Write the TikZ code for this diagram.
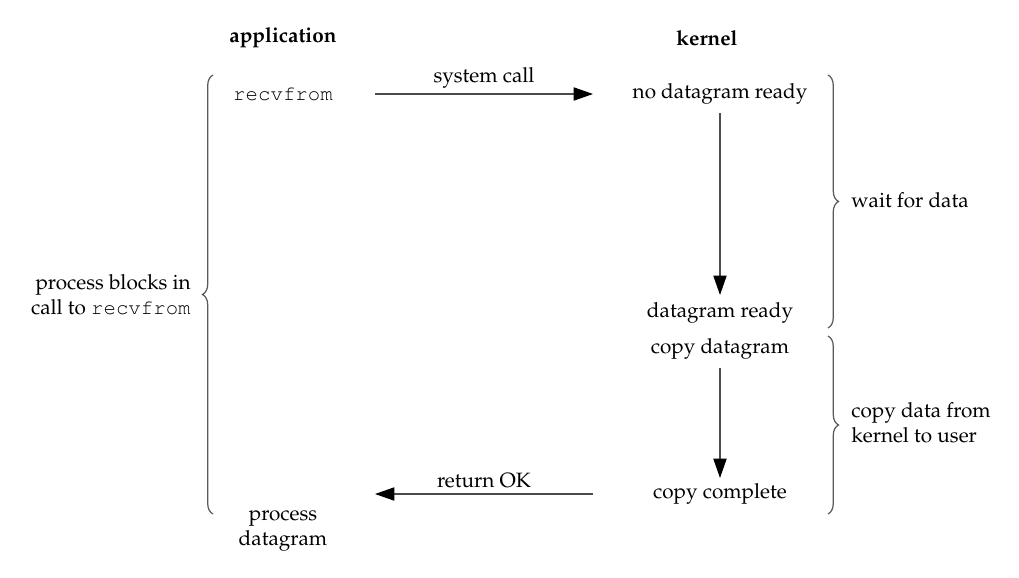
\documentclass[tikz,border=0pt]{standalone}
\usepackage[T1]{fontenc}
\usepackage{mathpazo}
\usepackage{courier}
\usetikzlibrary{arrows.meta,decorations.pathreplacing}
\begin{document}
\begin{tikzpicture}[x=0.02cm,y=-0.02cm,
  lbl/.style={inner sep=0pt,font=\fontsize{11.8}{14}\selectfont},
  hdr/.style={inner sep=0pt,font=\fontsize{11.8}{14}\selectfont\bfseries},
  conn/.style={draw=black!70,line width=0.7pt,-{Stealth[length=11pt,width=7.5pt,inset=0pt,black]}},
  brc/.style={draw=black!65,line width=0.7pt,decorate,decoration={brace,amplitude=6pt}}]
\useasboundingbox (0,0) rectangle (1019,578);
\node[hdr] (app) at (283,38) {application};
\node[hdr] (ker) at (707,38) {kernel};
\node[lbl] (recv) at (283,94) {\ttfamily recvfrom};
\node[lbl] (nodr) at (720,94) {no datagram ready};
\node[lbl] (dr) at (720,313) {datagram ready};
\node[lbl] (cd) at (720,349) {copy datagram};
\node[lbl] (cc) at (720,494) {copy complete};
\node[lbl,align=center] (pd) at (283,531) {process\\datagram};
\node[lbl,align=right,anchor=east] (pb) at (191,295) {process blocks in\\call to \ttfamily recvfrom};
\node[lbl,align=left,anchor=west] (wd) at (851,200) {wait for data};
\node[lbl,align=left,anchor=west] (cdk) at (851,423) {copy data from\\kernel to user};
\path (recv.center) ++(92,0) coordinate (s1);
\path (nodr.center) ++(-127,0) coordinate (e1);
\path (nodr.center) ++(0,19) coordinate (s2);
\path (dr.center) ++(0,-18) coordinate (e2);
\path (cd.center) ++(0,19) coordinate (s3);
\path (cc.center) ++(0,-16) coordinate (e3);
\path (cc.center) ++(-127,0) coordinate (s4);
\path (recv.center |- cc.center) ++(92,0) coordinate (e4);
\draw[conn] (s1) -- node[lbl,above=3pt] {system call} (e1);
\draw[conn] (s2) -- (e2);
\draw[conn] (s3) -- (e3);
\draw[conn] (s4) -- node[lbl,above=3pt] {return OK} (e4);
\draw[brc] (213,514) -- (213,75);
\draw[brc] (828,75) -- (828,328);
\draw[brc] (828,336) -- (828,514);
\end{tikzpicture}
\end{document}
